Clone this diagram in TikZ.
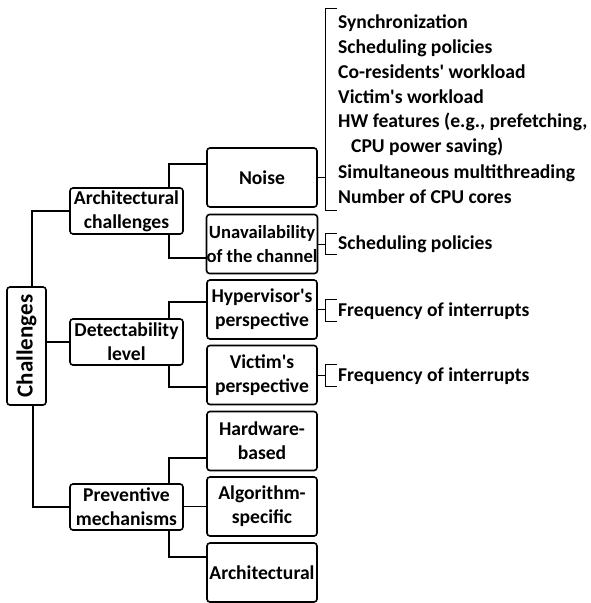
\documentclass[tikz,border=0pt]{standalone}
\usepackage{fontspec}
\setmainfont{Carlito}
\begin{document}
\begin{tikzpicture}[x=1pt,y=-1pt,
  font=\fontsize{19.6}{24}\selectfont\bfseries,
  box/.style={draw, line width=1.6pt, rounded corners=3pt, align=center, inner sep=0pt},
  sbox/.style={box, minimum width=110pt, minimum height=59pt},
  mbox/.style={box, minimum width=113pt, minimum height=46pt},
  conn/.style={line width=1.3pt},
  brk/.style={line width=1pt},
  item/.style={anchor=base west, inner sep=0pt}]
\useasboundingbox (0,0) rectangle (591,603);

% boxes
\node[box, rotate=90, minimum width=118pt, minimum height=39pt, font=\fontsize{23}{26}\selectfont\bfseries] (ch) at (26.5,346) {Challenges};
\node[mbox] (arch) at (126.5,211) {Architectural\\challenges};
\node[mbox] (det) at (126.5,342) {Detectability\\level};
\node[mbox] (prev) at (126.5,507) {Preventive\\mechanisms};
\node[sbox] (noise) at (262,177.5) {Noise};
\node[sbox, font=\fontsize{18.6}{24}\selectfont\bfseries] (unav) at (262,244) {Unavailability\\of the channel};
\node[sbox] (hyp) at (262,309.5) {Hypervisor\textquotesingle s\\perspective};
\node[sbox] (vic) at (262,375) {Victim\textquotesingle s\\perspective};
\node[sbox] (hw) at (262,441) {Hardware-\\based};
\node[sbox] (alg) at (262,506.5) {Algorithm-\\specific};
\node[sbox] (arc) at (262,572.5) {Architectural};

% tree connectors
\draw[conn] ([xshift=5.5pt]ch.east) |- (arch.west);
\draw[conn] (ch.south |- det.west) -- (det.west);
\draw[conn] ([xshift=6.5pt]ch.west) |- (prev.west);

\draw[conn] ([xshift=42.5pt]arch.north) |- ([yshift=13.5pt]noise.west);
\draw[conn] ([xshift=42.5pt]arch.south) |- ([yshift=-14pt]unav.west);

\draw[conn] ([xshift=42.5pt]det.north) |- ([yshift=7.5pt]hyp.west);
\draw[conn] ([xshift=42.5pt]det.south) |- ([yshift=-12pt]vic.west);

\draw[conn] ([xshift=42.5pt]prev.north) |- ([yshift=-17pt]hw.west);
\draw[conn] (prev.east |- alg.west) -- (alg.west);
\draw[conn] ([xshift=42.5pt]prev.south) |- ([yshift=15.5pt]arc.west);

% brackets
\draw[brk] (noise.east) -- (noise.east -| 325,0);
\draw[brk] (337,8) -- (325,8) -- (325,210) -- (337,210);
\draw[brk] (unav.east) -- (unav.east -| 325,0);
\draw[brk] (337,233) -- (325,233) -- (325,254) -- (337,254);
\draw[brk] (hyp.east) -- (hyp.east -| 325,0);
\draw[brk] (337,299) -- (325,299) -- (325,321) -- (337,321);
\draw[brk] (vic.east) -- (vic.east -| 325,0);
\draw[brk] (337,364) -- (325,364) -- (325,386) -- (337,386);

% items
\node[item] (n1) at (338,28) {Synchronization};
\node[item] (n2) at (338,53) {Scheduling policies};
\node[item] (n3) at (338,78) {Co-residents\textquotesingle\ workload};
\node[item] (n4) at (338,103) {Victim\textquotesingle s workload};
\node[item] (n5) at (338,127) {HW features (e.g., prefetching,};
\node[item] (n6) at (351,152) {CPU power saving)};
\node[item] (n7) at (338,178) {Simultaneous multithreading};
\node[item] (n8) at (338,203) {Number of CPU cores};
\node[item] (u1) at (338,249) {Scheduling policies};
\node[item] (h1) at (338,316) {Frequency of interrupts};
\node[item] (v1) at (338,381) {Frequency of interrupts};
\end{tikzpicture}
\end{document}
